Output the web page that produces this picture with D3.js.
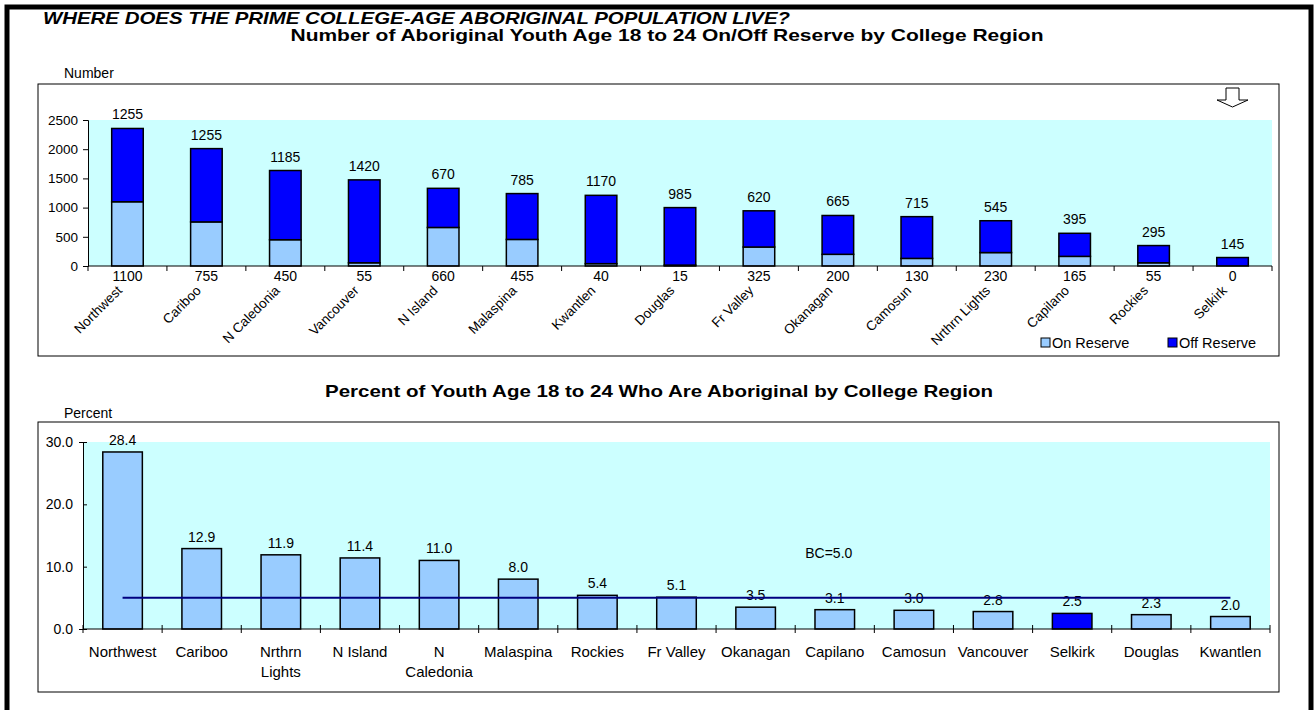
<!DOCTYPE html>
<html>
<head>
<meta charset="utf-8">
<script src="https://cdn.jsdelivr.net/npm/d3@7"></script>
<style>
  body { margin: 0; background: #fff; }
  text { font-family: Arial, "Liberation Sans", sans-serif; fill: #000; }
</style>
</head>
<body>
<div id="chart"></div>
<script>
// data

var regions = ["Northwest", "Cariboo", "N Caledonia", "Vancouver", "N Island", "Malaspina", "Kwantlen", "Douglas",
  "Fr Valley", "Okanagan", "Camosun", "Nrthrn Lights", "Capilano", "Rockies", "Selkirk"];
var onReserve = [1100, 755, 450, 55, 660, 455, 40, 15, 325, 200, 130, 230, 165, 55, 0];
var offReserve = [1255, 1255, 1185, 1420, 670, 785, 1170, 985, 620, 665, 715, 545, 395, 295, 145];
var numberTicks = [0, 500, 1000, 1500, 2000, 2500];

var pctRegions = ["Northwest", "Cariboo", "Nrthrn Lights", "N Island", "N Caledonia", "Malaspina", "Rockies",
  "Fr Valley", "Okanagan", "Capilano", "Camosun", "Vancouver", "Selkirk", "Douglas", "Kwantlen"];
var pctAboriginal = [28.4, 12.9, 11.9, 11.4, 11.0, 8.0, 5.4, 5.1, 3.5, 3.1, 3.0, 2.8, 2.5, 2.3, 2.0];
var pctTicks = [0, 10, 20, 30];
var bcAverage = 5.0;
var bcLabelAt = "Capilano";
var highlight = "Selkirk";

var LIGHT = "#99CCFF", DARK = "#0000FF", PLOTBG = "#CCFFFF";

var svg = d3.select("#chart").append("svg")
  .attr("width", 1315)
  .attr("height", 710);

// the headings in the original are wide and flat, so stretch them to their width
function heading(x, y, width, size, txt, italic) {
  return svg.append("text")
    .attr("x", x - width / 2).attr("y", y)
    .attr("font-size", size)
    .attr("font-weight", "bold")
    .attr("font-style", italic ? "italic" : null)
    .attr("textLength", width)
    .attr("lengthAdjust", "spacingAndGlyphs")
    .text(txt);
}

// outer frame
svg.append("rect")
  .attr("x", 7).attr("y", 7)
  .attr("width", 1304).attr("height", 730)
  .attr("fill", "none")
  .attr("stroke", "#000")
  .attr("stroke-width", 5);

heading(43 + 747 / 2, 24, 747, "17px", "WHERE DOES THE PRIME COLLEGE-AGE ABORIGINAL POPULATION LIVE?", true);

// ---------- top chart: on / off reserve counts ----------

var topBox = {left: 88, right: 1272, top: 120, bottom: 266};

heading(667, 41, 753, "16.5px", "Number of Aboriginal Youth Age 18 to 24 On/Off Reserve by College Region");

svg.append("rect")
  .attr("x", 38).attr("y", 84)
  .attr("width", 1241).attr("height", 272)
  .attr("fill", "#fff")
  .attr("stroke", "#000");

svg.append("text")
  .attr("x", 64).attr("y", 78)
  .attr("font-size", "14px")
  .text("Number");

var x1 = d3.scaleBand().domain(regions).range([topBox.left, topBox.right]).paddingInner(0.6).paddingOuter(0.3);
var y1 = d3.scaleLinear().domain([0, 2500]).range([topBox.bottom, topBox.top]);

svg.append("rect")
  .attr("x", topBox.left).attr("y", topBox.top)
  .attr("width", topBox.right - topBox.left).attr("height", topBox.bottom - topBox.top)
  .attr("fill", PLOTBG);

var stacked = regions.map(function(r, i) {
  return {region: r, on: onReserve[i], off: offReserve[i]};
});

var g1 = svg.append("g");

g1.selectAll("rect.on").data(stacked).enter().append("rect")
  .attr("class", "on")
  .attr("x", function(d) { return x1(d.region); })
  .attr("y", function(d) { return y1(d.on); })
  .attr("width", x1.bandwidth())
  .attr("height", function(d) { return y1(0) - y1(d.on); })
  .attr("fill", LIGHT)
  .attr("stroke", "#000")
  .attr("stroke-width", 1.5)
  .attr("display", function(d) { return d.on > 0 ? null : "none"; });

g1.selectAll("rect.off").data(stacked).enter().append("rect")
  .attr("class", "off")
  .attr("x", function(d) { return x1(d.region); })
  .attr("y", function(d) { return y1(d.on + d.off); })
  .attr("width", x1.bandwidth())
  .attr("height", function(d) { return y1(d.on) - y1(d.on + d.off); })
  .attr("fill", DARK)
  .attr("stroke", "#000")
  .attr("stroke-width", 1.5);

// y axis
var yAxis1 = svg.append("g")
  .attr("transform", "translate(" + topBox.left + ",0)")
  .call(d3.axisLeft(y1).tickValues(numberTicks).tickFormat(d3.format("d")).tickSize(5).tickPadding(5));
yAxis1.select(".domain").attr("stroke", "#000");
yAxis1.selectAll(".tick line").attr("stroke", "#000");
yAxis1.selectAll(".tick text").attr("font-size", "13.5px").attr("font-family", null);

// x axis, ticks between the bars
var bounds1 = d3.range(regions.length + 1).map(function(i) {
  return topBox.left + i * (topBox.right - topBox.left) / regions.length;
});
var xAxis1 = svg.append("g");
xAxis1.append("line")
  .attr("x1", topBox.left).attr("x2", topBox.right)
  .attr("y1", topBox.bottom).attr("y2", topBox.bottom)
  .attr("stroke", "#000");
xAxis1.selectAll("line.tk").data(bounds1).enter().append("line")
  .attr("class", "tk")
  .attr("x1", function(d) { return d; }).attr("x2", function(d) { return d; })
  .attr("y1", topBox.bottom).attr("y2", topBox.bottom + 5)
  .attr("stroke", "#000");

// value labels
g1.selectAll("text.offlab").data(stacked).enter().append("text")
  .attr("x", function(d) { return x1(d.region) + x1.bandwidth() / 2; })
  .attr("y", function(d) { return y1(d.on + d.off) - 9; })
  .attr("text-anchor", "middle")
  .attr("font-size", "14px")
  .text(function(d) { return d.off; });

g1.selectAll("text.onlab").data(stacked).enter().append("text")
  .attr("x", function(d) { return x1(d.region) + x1.bandwidth() / 2; })
  .attr("y", topBox.bottom + 15)
  .attr("text-anchor", "middle")
  .attr("font-size", "14px")
  .text(function(d) { return d.on; });

// rotated category names
g1.selectAll("text.cat").data(regions).enter().append("text")
  .attr("transform", function(d) {
    return "translate(" + (x1(d) + x1.bandwidth() / 2 - 8) + "," + (topBox.bottom + 22) + ") rotate(-45)";
  })
  .attr("text-anchor", "end")
  .attr("dy", "0.35em")
  .attr("font-size", "13.5px")
  .text(function(d) { return d; });

// legend
var legend = svg.append("g").attr("transform", "translate(1040,348)");
var legItems = [{label: "On Reserve", fill: LIGHT, x: 0}, {label: "Off Reserve", fill: DARK, x: 127}];
var li = legend.selectAll("g").data(legItems).enter().append("g")
  .attr("transform", function(d) { return "translate(" + d.x + ",0)"; });
li.append("rect")
  .attr("x", 1).attr("y", -10)
  .attr("width", 9).attr("height", 9)
  .attr("fill", function(d) { return d.fill; })
  .attr("stroke", "#000");
li.append("text")
  .attr("x", 12)
  .attr("font-size", "14.5px")
  .text(function(d) { return d.label; });

// little "scroll down" arrow in the corner
svg.append("path")
  .attr("transform", "translate(" + (topBox.right - 46) + ",88)")
  .attr("d", "M0,0 H13 V12 H22 L6.5,19 L-9,12 H0 Z")
  .attr("fill", "#fff")
  .attr("stroke", "#000");

// ---------- bottom chart: percent aboriginal ----------

var botBox = {left: 83, right: 1270, top: 442, bottom: 629};

heading(659, 397, 668, "16.5px", "Percent of Youth Age 18 to 24 Who Are Aboriginal by College Region");

svg.append("rect")
  .attr("x", 38).attr("y", 422)
  .attr("width", 1241).attr("height", 270)
  .attr("fill", "#fff")
  .attr("stroke", "#000");

svg.append("text")
  .attr("x", 64).attr("y", 418)
  .attr("font-size", "14px")
  .text("Percent");

var x2 = d3.scaleBand().domain(pctRegions).range([botBox.left, botBox.right]).paddingInner(0.5).paddingOuter(0.25);
var y2 = d3.scaleLinear().domain([0, 30]).range([botBox.bottom, botBox.top]);

svg.append("rect")
  .attr("x", botBox.left).attr("y", botBox.top)
  .attr("width", botBox.right - botBox.left).attr("height", botBox.bottom - botBox.top)
  .attr("fill", PLOTBG);

var pct = pctRegions.map(function(r, i) { return {region: r, value: pctAboriginal[i]}; });

var g2 = svg.append("g");
g2.selectAll("rect").data(pct).enter().append("rect")
  .attr("x", function(d) { return x2(d.region); })
  .attr("y", function(d) { return y2(d.value); })
  .attr("width", x2.bandwidth())
  .attr("height", function(d) { return y2(0) - y2(d.value); })
  .attr("fill", function(d) { return d.region == highlight ? DARK : LIGHT; })
  .attr("stroke", "#000")
  .attr("stroke-width", 1.5);

g2.selectAll("text.val").data(pct).enter().append("text")
  .attr("class", "val")
  .attr("x", function(d) { return x2(d.region) + x2.bandwidth() / 2; })
  .attr("y", function(d) { return y2(d.value) - 7; })
  .attr("text-anchor", "middle")
  .attr("font-size", "14px")
  .text(function(d) { return d3.format(".1f")(d.value); });

// BC average line
var cx = function(r) { return x2(r) + x2.bandwidth() / 2; };
svg.append("line")
  .attr("x1", cx(pctRegions[0])).attr("x2", cx(pctRegions[pctRegions.length - 1]))
  .attr("y1", y2(bcAverage)).attr("y2", y2(bcAverage))
  .attr("stroke", "#000080")
  .attr("stroke-width", 2);
svg.append("text")
  .attr("x", cx(bcLabelAt) - 6).attr("y", y2(bcAverage) - 40)
  .attr("text-anchor", "middle")
  .attr("font-size", "14px")
  .text("BC=" + d3.format(".1f")(bcAverage));

var yAxis2 = svg.append("g")
  .attr("transform", "translate(" + botBox.left + ",0)")
  .call(d3.axisLeft(y2).tickValues(pctTicks).tickFormat(d3.format(".1f")).tickSize(4).tickPadding(6));
yAxis2.selectAll(".tick line").attr("x2", 4);
yAxis2.select(".domain").attr("stroke", "#000");
yAxis2.selectAll(".tick line").attr("stroke", "#000");
yAxis2.selectAll(".tick text").attr("font-size", "14px").attr("font-family", null);

var bounds2 = d3.range(pctRegions.length + 1).map(function(i) {
  return botBox.left + i * (botBox.right - botBox.left) / pctRegions.length;
});
var xAxis2 = svg.append("g");
xAxis2.append("line")
  .attr("x1", botBox.left).attr("x2", botBox.right)
  .attr("y1", botBox.bottom).attr("y2", botBox.bottom)
  .attr("stroke", "#000");
xAxis2.selectAll("line.tk").data(bounds2).enter().append("line")
  .attr("class", "tk")
  .attr("x1", function(d) { return d; }).attr("x2", function(d) { return d; })
  .attr("y1", botBox.bottom - 4).attr("y2", botBox.bottom + 4)
  .attr("stroke", "#000");

// wrapped category labels
var cats2 = g2.selectAll("text.cat").data(pctRegions).enter().append("text")
  .attr("class", "cat")
  .attr("x", function(d) { return cx(d); })
  .attr("y", botBox.bottom + 28)
  .attr("text-anchor", "middle")
  .attr("font-size", "15px");

cats2.each(function(d) {
  var el = d3.select(this);
  var words = d.split(" "), lines = [], cur = "";
  var probe = el.append("tspan");
  words.forEach(function(w) {
    var test = cur ? cur + " " + w : w;
    probe.text(test);
    if (probe.node().getComputedTextLength() > 76 && cur) { lines.push(cur); cur = w; }
    else cur = test;
  });
  lines.push(cur);
  probe.remove();
  lines.forEach(function(l, i) {
    el.append("tspan")
      .attr("x", cx(d))
      .attr("dy", i ? 20 : 0)
      .text(l);
  });
});
</script>
</body>
</html>
